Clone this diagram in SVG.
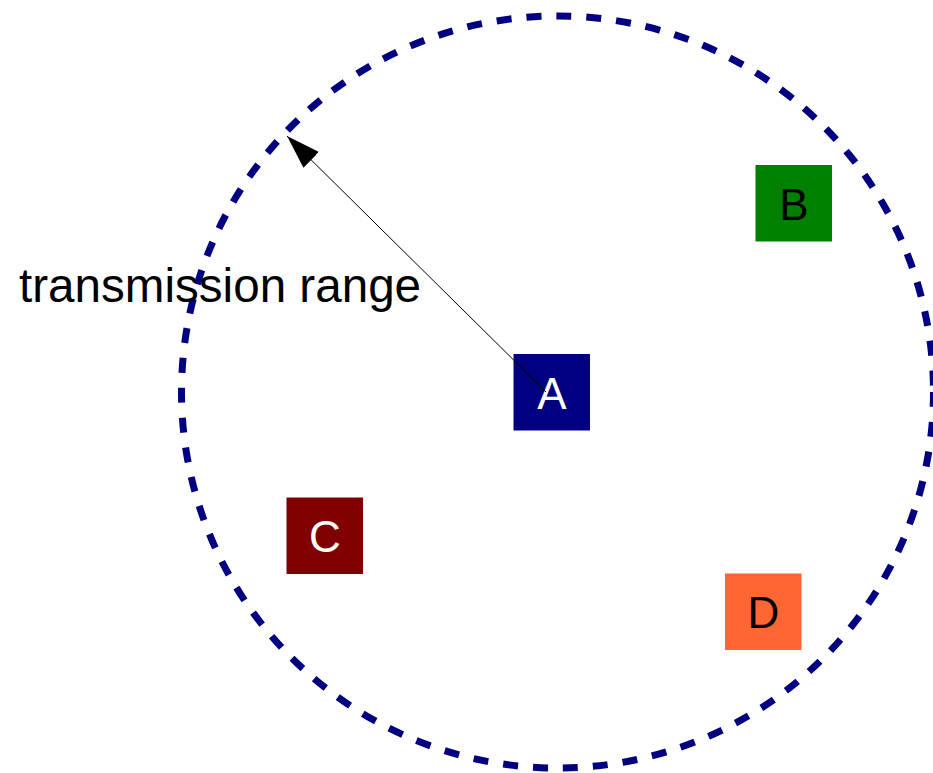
<svg xmlns="http://www.w3.org/2000/svg" width="933" height="773" viewBox="0 0 933 773">
  <style>
    .range { fill: none; stroke: #000080; stroke-width: 7; stroke-dasharray: 15 15; }
    .lbl { font-family: "Liberation Sans", Arial, sans-serif; font-size: 44px; text-anchor: middle; }
    .cap { font-family: "Liberation Sans", Arial, sans-serif; font-size: 47.6px; fill: #000000; }
    .conn { stroke: #000000; stroke-width: 1; fill: none; }
  </style>
  <defs>
    <marker id="arrow" markerUnits="userSpaceOnUse" markerWidth="34" markerHeight="22" refX="34" refY="11" orient="auto">
      <path d="M0,0 L34,11 L0,22 z" fill="#000000"/>
    </marker>
  </defs>
  <rect width="933" height="773" fill="#ffffff"/>
  <circle id="range" class="range" cx="557.5" cy="392" r="376"/>
  <text class="cap" x="19" y="302">transmission range</text>
  <g id="node-A">
    <rect x="513.5" y="354" width="76.5" height="76.5" fill="#000080"/>
    <text class="lbl" x="552" y="408.5" fill="#ffffff">A</text>
  </g>
  <g id="node-B">
    <rect x="755.5" y="165" width="76.5" height="76.5" fill="#008000"/>
    <text class="lbl" x="794" y="219.5" fill="#000000">B</text>
  </g>
  <g id="node-C">
    <rect x="286.5" y="497.5" width="76.5" height="76.5" fill="#800000"/>
    <text class="lbl" x="325" y="552" fill="#ffffff">C</text>
  </g>
  <g id="node-D">
    <rect x="725" y="573.5" width="76.5" height="76.5" fill="#ff6633"/>
    <text class="lbl" x="763.5" y="628" fill="#000000">D</text>
  </g>
  <g id="connectors">
    <line class="conn" x1="546" y1="392" x2="287" y2="136" marker-end="url(#arrow)"/>
  </g>
</svg>
